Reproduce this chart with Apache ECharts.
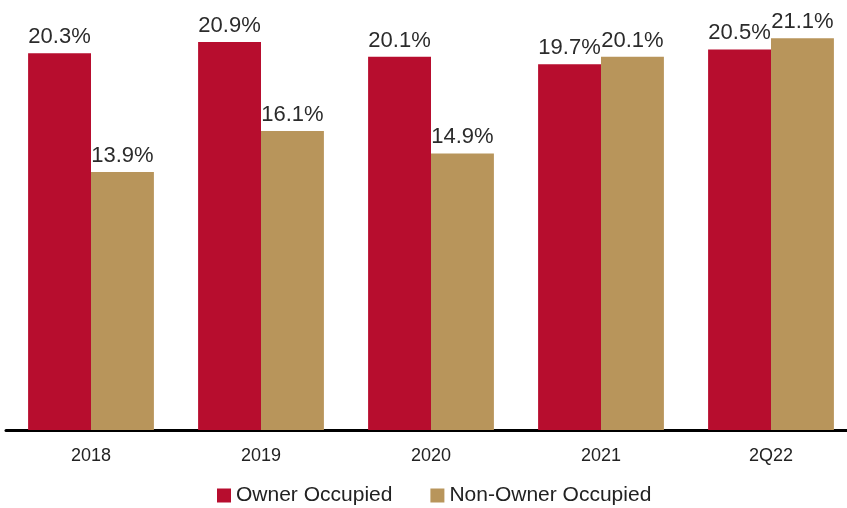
<!DOCTYPE html>
<html>
<head>
<meta charset="utf-8">
<script src="https://cdn.jsdelivr.net/npm/echarts@6/dist/echarts.min.js"></script>
<style>
  html, body { margin: 0; padding: 0; background: #fff; }
  #chart { width: 847px; height: 508px; }
</style>
</head>
<body>
<div id="chart"></div>
<script>
const categories = ['2018', '2019', '2020', '2021', '2Q22']
const ownerOccupied = [20.3, 20.9, 20.1, 19.7, 20.5]
const nonOwnerOccupied = [13.9, 16.1, 14.9, 20.1, 21.1]

const chart = echarts.init(document.getElementById('chart'))

const labelStyle = {
  show: true,
  position: 'top',
  distance: 5,
  formatter: p => p.value.toFixed(1) + '%',
  fontFamily: 'Liberation Sans',
  fontSize: 22,
  color: '#2b2b2b'
}

const option = {
  animation: false,
  grid: {
    left: 6,
    width: 850,
    top: 3,
    height: 427,
    outerBoundsMode: 'none'
  },
  legend: {
    left: 212,
    top: 480,
    itemWidth: 14,
    itemHeight: 14,
    itemGap: 38,
    icon: 'rect',
    textStyle: {
      fontFamily: 'Liberation Sans',
      fontSize: 21,
      color: '#222'
    },
    data: ['Owner Occupied', 'Non-Owner Occupied']
  },
  xAxis: {
    type: 'category',
    data: categories,
    axisLine: { lineStyle: { color: '#000', width: 3 } },
    axisTick: { show: false },
    axisLabel: {
      margin: 17,
      fontFamily: 'Liberation Sans',
      fontSize: 18,
      color: '#222'
    }
  },
  yAxis: {
    type: 'value',
    min: 0,
    max: 23,
    show: false
  },
  series: [
    {
      name: 'Owner Occupied',
      type: 'bar',
      data: ownerOccupied,
      barGap: '0%',
      barCategoryGap: '26%',
      itemStyle: { color: '#B70D2E' },
      label: labelStyle
    },
    {
      name: 'Non-Owner Occupied',
      type: 'bar',
      data: nonOwnerOccupied,
      itemStyle: { color: '#B8955B' },
      label: labelStyle
    }
  ]
}

chart.setOption(option)
</script>
</body>
</html>
